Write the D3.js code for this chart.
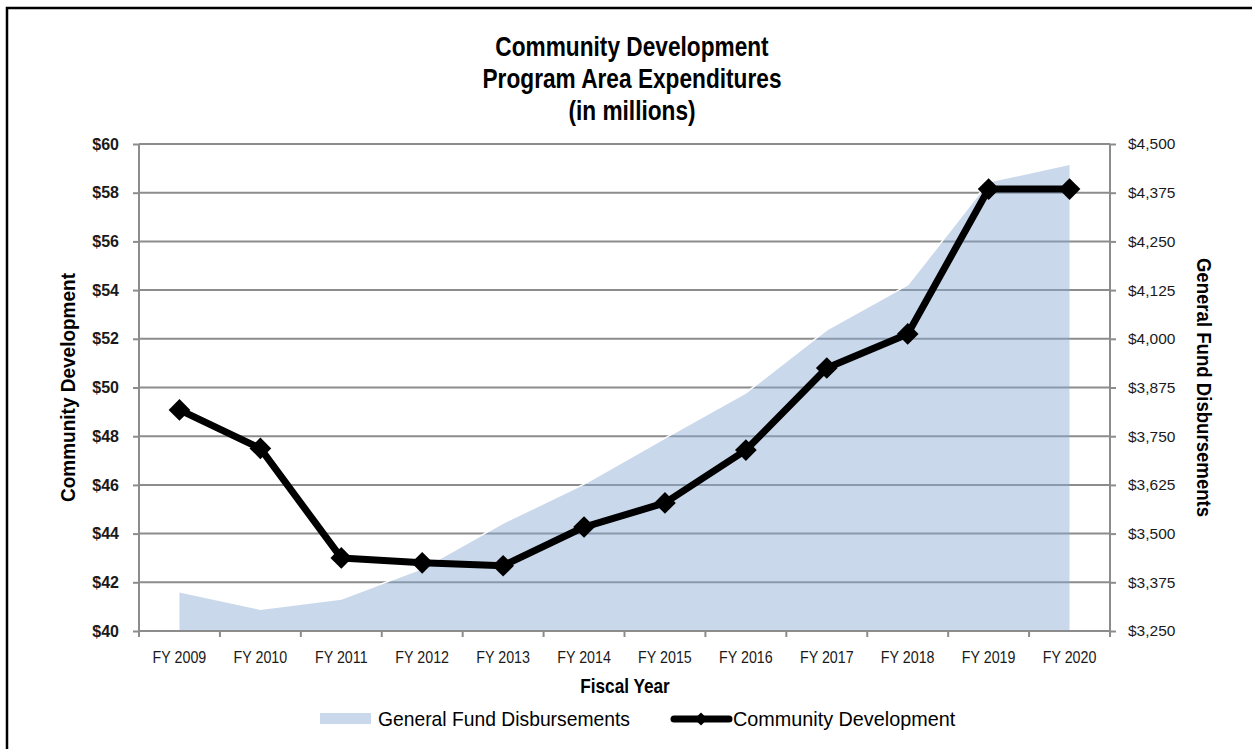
<!DOCTYPE html>
<html>
<head>
<meta charset="utf-8">
<script src="https://cdn.jsdelivr.net/npm/d3@7"></script>
<style>
  body { margin: 0; background: #fff; }
  svg { display: block; }
  text { font-family: "Liberation Sans", Arial, sans-serif; }
</style>
</head>
<body>
<svg width="1252" height="749"></svg>
<script>
const svg = d3.select('svg');

const years = ['FY 2009', 'FY 2010', 'FY 2011', 'FY 2012', 'FY 2013', 'FY 2014',
  'FY 2015', 'FY 2016', 'FY 2017', 'FY 2018', 'FY 2019', 'FY 2020'];
const communityDev = [49.08, 47.5, 43.0, 42.8, 42.68, 44.27, 45.26, 47.43, 50.8, 52.2, 58.15, 58.15];
const generalFund = [3351, 3306, 3332, 3410, 3527, 3627, 3745, 3861, 4023, 4138, 4403, 4448];
const leftTicks = [40, 42, 44, 46, 48, 50, 52, 54, 56, 58, 60];
const rightTicks = [3250, 3375, 3500, 3625, 3750, 3875, 4000, 4125, 4250, 4375, 4500];
const titleLines = ['Community Development', 'Program Area Expenditures', '(in millions)'];

const margin = { top: 144, right: 142, bottom: 118, left: 139 };
const width = 1252, height = 749;
const innerWidth = width - margin.left - margin.right;
const innerHeight = height - margin.top - margin.bottom;

const gridColor = '#8c8c8c';
const fundColor = 'rgb(135,169,211)';
const fundOpacity = 0.45;

// narrow text: the original uses a condensed face, so squeeze Liberation Sans
const narrowText = (parent, opts) => {
  const { x, y, rotate = 0, sx = 0.85, size, bold, anchor = 'middle', text } = opts;
  const tg = parent.append('g')
    .attr('transform', `translate(${x},${y}) rotate(${rotate}) scale(${sx},1)`);
  return tg.append('text')
    .attr('text-anchor', anchor)
    .attr('font-size', size)
    .attr('font-weight', bold ? 'bold' : 'normal')
    .attr('fill', '#000')
    .text(text);
};

// outer chart border (only left and top edges fall inside the picture)
svg.append('path')
  .attr('d', `M7,${height}V8H${width}`)
  .attr('fill', 'none')
  .attr('stroke', '#000')
  .attr('stroke-width', 2.5);

const xScale = d3.scaleBand()
  .domain(years)
  .range([0, innerWidth]);

const yLeft = d3.scaleLinear()
  .domain([40, 60])
  .range([innerHeight, 0]);

const yRight = d3.scaleLinear()
  .domain([3250, 4500])
  .range([innerHeight, 0]);

const xc = d => xScale(d) + xScale.bandwidth() / 2;

const g = svg.append('g')
  .attr('transform', `translate(${margin.left},${margin.top})`);

// gridlines
g.selectAll('.grid').data(leftTicks.slice(1))
  .enter().append('line')
    .attr('class', 'grid')
    .attr('x1', 0).attr('x2', innerWidth)
    .attr('y1', d => yLeft(d)).attr('y2', d => yLeft(d))
    .attr('stroke', gridColor)
    .attr('stroke-width', 2);

// general fund area (right axis)
const area = d3.area()
  .x((d, i) => xc(years[i]))
  .y0(innerHeight)
  .y1(d => yRight(d));

g.append('path')
  .datum(generalFund)
  .attr('d', area)
  .attr('fill', fundColor)
  .attr('fill-opacity', fundOpacity);

g.append('path')
  .datum(generalFund)
  .attr('d', d3.line().x((d, i) => xc(years[i])).y(d => yRight(d)))
  .attr('fill', 'none')
  .attr('stroke', '#fff')
  .attr('stroke-width', 1.5);

// axes
const axisLeft = d3.axisLeft(yLeft)
  .tickValues(leftTicks)
  .tickSize(6)
  .tickPadding(14)
  .tickFormat(d => '$' + d);
const axisRight = d3.axisRight(yRight)
  .tickValues(rightTicks)
  .tickSize(6)
  .tickPadding(12)
  .tickFormat(d => '$' + d3.format(',')(d));
const axisBottom = d3.axisBottom(xScale)
  .tickSize(0)
  .tickPadding(20);

const leftG = g.append('g').call(axisLeft);
leftG.selectAll('text')
  .attr('font-size', 16)
  .attr('font-weight', 'bold')
  .attr('fill', '#1a1a1a');

const rightG = g.append('g')
  .attr('transform', `translate(${innerWidth},0)`)
  .call(axisRight);
rightG.selectAll('text')
  .attr('font-size', 15.5)
  .attr('fill', '#1a1a1a');

const bottomG = g.append('g')
  .attr('transform', `translate(0,${innerHeight})`)
  .call(axisBottom);
bottomG.selectAll('text')
  .attr('font-size', 17)
  .attr('fill', '#1a1a1a')
  .attr('transform', 'scale(0.84,1)');

[leftG, rightG, bottomG].forEach(a => a.attr('font-family', null).attr('font-size', null));

// ticks between categories
bottomG.selectAll('.bt').data(d3.range(years.length + 1))
  .enter().append('line')
    .attr('class', 'bt')
    .attr('x1', d => d * xScale.step())
    .attr('x2', d => d * xScale.step())
    .attr('y1', 0).attr('y2', 6)
    .attr('stroke', gridColor)
    .attr('stroke-width', 2);

[leftG, rightG, bottomG].forEach(a => {
  a.selectAll('.domain').attr('stroke', gridColor).attr('stroke-width', 2);
  a.selectAll('.tick line').attr('stroke', gridColor).attr('stroke-width', 2);
});
leftG.select('.domain').attr('d', `M0,${innerHeight}V0`);
rightG.select('.domain').attr('d', `M0,${innerHeight}V0`);
bottomG.select('.domain').attr('d', `M0,0H${innerWidth}`);

// community development line
const line = d3.line()
  .x((d, i) => xc(years[i]))
  .y(d => yLeft(d));

g.append('path')
  .datum(communityDev)
  .attr('d', line)
  .attr('fill', 'none')
  .attr('stroke', '#000')
  .attr('stroke-width', 7)
  .attr('stroke-linejoin', 'round');

const diamond = d3.symbol().type(d3.symbolDiamond2).size(300);
g.selectAll('.marker').data(communityDev)
  .enter().append('path')
    .attr('class', 'marker')
    .attr('d', diamond)
    .attr('transform', (d, i) => `translate(${xc(years[i])},${yLeft(d)})`)
    .attr('fill', '#000');

// title
titleLines.forEach((t, i) => {
  narrowText(svg, { x: 632, y: 56 + i * 32, sx: 0.84, size: 27, bold: true, text: t });
});

// axis titles
narrowText(svg, {
  x: 75, y: margin.top + innerHeight / 2, rotate: -90, sx: 0.95,
  size: 20, bold: true, text: 'Community Development'
});
narrowText(svg, {
  x: 1197, y: margin.top + innerHeight / 2, rotate: 90, sx: 0.93,
  size: 20, bold: true, text: 'General Fund Disbursements'
});
narrowText(svg, {
  x: 625, y: 693, sx: 0.86, size: 20, bold: true, text: 'Fiscal Year'
});

// legend
const legend = svg.append('g').attr('transform', 'translate(0,719)');
legend.append('rect')
  .attr('x', 320).attr('y', -6)
  .attr('width', 51).attr('height', 11)
  .attr('fill', fundColor)
  .attr('fill-opacity', fundOpacity);
narrowText(legend, {
  x: 378, y: 7, sx: 0.965, size: 20, anchor: 'start', text: 'General Fund Disbursements'
});
legend.append('line')
  .attr('x1', 674).attr('x2', 729)
  .attr('y1', 0).attr('y2', 0)
  .attr('stroke', '#000')
  .attr('stroke-width', 7)
  .attr('stroke-linecap', 'round');
legend.append('path')
  .attr('d', d3.symbol().type(d3.symbolDiamond2).size(110))
  .attr('transform', 'translate(701,0)')
  .attr('fill', '#000');
narrowText(legend, {
  x: 733, y: 7, sx: 0.99, size: 20, anchor: 'start', text: 'Community Development'
});
</script>
</body>
</html>
